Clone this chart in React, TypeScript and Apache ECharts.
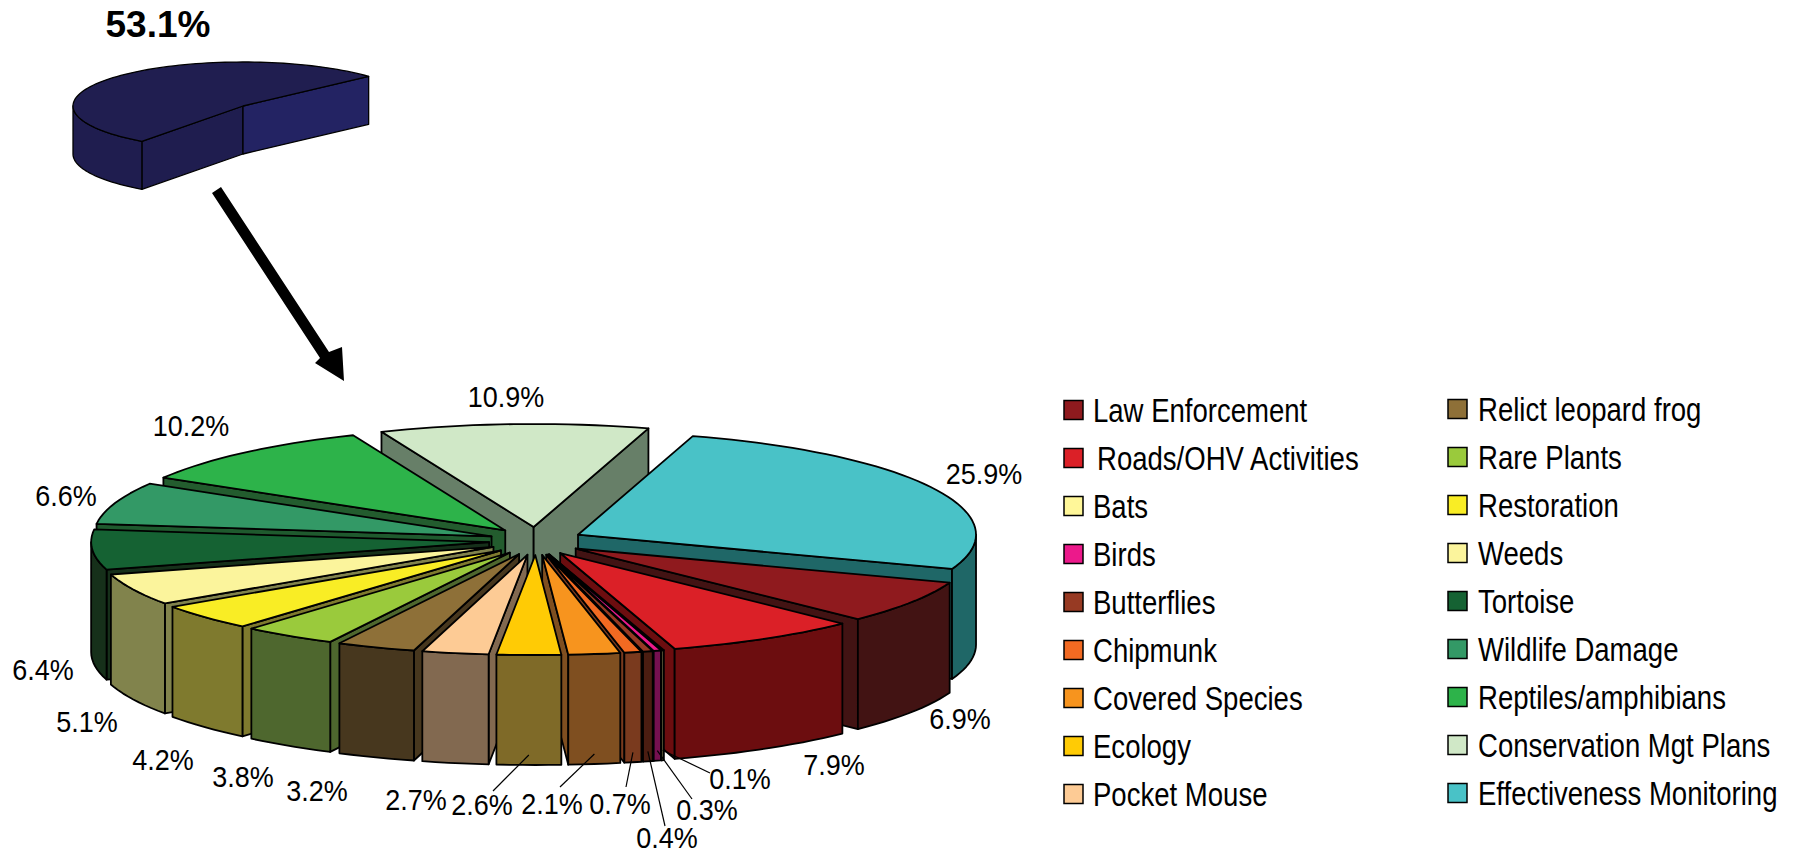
import React, { useEffect, useRef } from "react";
import * as echarts from "echarts";

const categories = [
  "Law Enforcement", "Roads/OHV Activities", "Bats", "Birds", "Butterflies", "Chipmunk",
  "Covered Species", "Ecology", "Pocket Mouse", "Relict leopard frog", "Rare Plants", "Restoration",
  "Weeds", "Tortoise", "Wildlife Damage", "Reptiles/amphibians", "Conservation Mgt Plans", "Effectiveness Monitoring",
];
const percentages = [6.9, 7.9, 0.1, 0.3, 0.4, 0.7, 2.1, 2.6, 2.7, 3.2, 3.8, 4.2, 5.1, 6.4, 6.6, 10.2, 10.9, 25.9];
const topColors = [
  "#8F1A1E", "#DB2027", "#FFF799", "#EC198B", "#973A23", "#F26A22", "#F7941E", "#FFCB05", "#FDCB95",
  "#8E7038", "#9ACA3C", "#F9ED25", "#FBF49C", "#156233", "#339966", "#2DB34A", "#D0E8C7", "#49C2C7",
];
const sideColors = [
  "#421313", "#6C0D0F", "#7F7A4C", "#761050", "#4B1D11", "#7A3A1E", "#7F4F20", "#7F6A28", "#826950",
  "#47371E", "#4E672E", "#7F7A2E", "#81834C", "#16301A", "#1F5A2E", "#235C2E", "#677F68", "#1F6767",
];
const overviewValue = 53.1;

// label centres and optional leader-line ends, page pixels, parallel to categories
const labelCentres = [
  [960, 718], [834, 764], [740, 778], [707, 809], [667, 837], [620, 803], [552, 803], [482, 804], [416, 799],
  [317, 790], [243, 776], [163, 759], [87, 721], [43, 669], [66, 495], [191, 425], [506, 396], [984, 473],
];
const leaderEnds: Record<number, number[]> = {
  2: [710, 773], 3: [692, 799], 4: [665, 826], 5: [626, 787], 6: [560, 787], 7: [493, 791],
};

const PIE = { cx: 536, cy: 541, ex: 47, ey: 14, rx: 398, ryF: 100, ryB: 103, depth: 110, start: 20 };
const NAVY = { ax: 243, ay: 106, rx: 170, ry: 44, depth: 48, start: 126.5 };
const rad = (d: number) => (d * Math.PI) / 180;
const FONT = '"Liberation Sans", Arial, sans-serif';

type Geo = { ax: number; ay: number; rx: number; ryF: number; ryB: number; depth: number };
const rim = (g: Geo, deg: number, dz = 0) => {
  const c = Math.cos(rad(deg));
  const s = Math.sin(rad(deg));
  return [g.ax + c * g.rx, g.ay + s * (s > 0 ? g.ryF : g.ryB) + dz];
};
const arcPts = (g: Geo, a: number, b: number, dz = 0) => {
  const n = Math.max(2, Math.ceil((b - a) / 2));
  const out: number[][] = [];
  for (let i = 0; i <= n; i++) out.push(rim(g, a + ((b - a) * i) / n, dz));
  return out;
};

function sliceShapes(g: Geo, a: number, b: number, top: string, wallA: string, wallB: string, wallO: string, lw: number) {
  const poly = (points: number[][], fill: string) => ({
    type: "polygon",
    silent: true,
    shape: { points },
    style: { fill, stroke: "#000", lineWidth: lw, lineJoin: "round" },
  });
  const kids: any[] = [];
  const apex = [g.ax, g.ay];
  const low = (p: number[]) => [p[0], p[1] + g.depth];
  if (-Math.cos(rad(a)) > 0) {
    const p = rim(g, a);
    kids.push(poly([apex, p, low(p), low(apex)], wallA));
  }
  if (Math.cos(rad(b)) > 0) {
    const p = rim(g, b);
    kids.push(poly([apex, p, low(p), low(apex)], wallB));
  }
  for (const [s, e] of [[0, 180], [360, 540]]) {
    const from = Math.max(a, s);
    const to = Math.min(b, e);
    if (to > from) kids.push(poly([...arcPts(g, from, to), ...arcPts(g, from, to, g.depth).reverse()], wallO));
  }
  kids.push(poly([apex, ...arcPts(g, a, b)], top));
  return kids;
}

// cumulative start percentage of every slice
const starts: number[] = [];
percentages.reduce((acc, v, i) => {
  starts[i] = acc;
  return acc + v;
}, 0);
const midDeg = (i: number) => PIE.start + 3.6 * (starts[i] + percentages[i] / 2);
const geoOf = (i: number): Geo => {
  const m = rad(midDeg(i));
  return {
    ax: PIE.cx + PIE.ex * Math.cos(m),
    ay: PIE.cy + PIE.ey * Math.sin(m),
    rx: PIE.rx, ryF: PIE.ryF, ryB: PIE.ryB, depth: PIE.depth,
  };
};
// painter's order: back slices first
const paintOrder = percentages.map((_, i) => i).sort((p, q) => Math.sin(rad(midDeg(p))) - Math.sin(rad(midDeg(q))));

const legendRows = 9;

export default function App() {
  const ref = useRef<HTMLDivElement>(null);
  useEffect(() => {
    document.body.style.margin = "0";
    const chart = echarts.init(ref.current!, undefined, { renderer: "svg" });

    const legendEls: any[] = [];
    categories.forEach((name, i) => {
      const col = i < legendRows ? 0 : 1;
      const row = i % legendRows;
      const sx = col === 0 ? 1064 : 1448;
      const tx = (col === 0 ? 1093 : 1478) + (i === 1 ? 4 : 0);
      const cy = (col === 0 ? 410 : 409) + row * 48;
      legendEls.push({
        type: "rect",
        silent: true,
        shape: { x: sx, y: cy - 9.5, width: 19, height: 19 },
        style: { fill: topColors[i], stroke: "#000", lineWidth: 1.5 },
      });
      legendEls.push({
        type: "text",
        silent: true,
        x: tx,
        y: cy,
        scaleX: 0.835,
        style: { text: name, fill: "#000", font: `33px ${FONT}`, textAlign: "left", textVerticalAlign: "middle" },
      });
    });

    chart.setOption({
      animation: false,
      backgroundColor: "#fff",
      graphic: [
        {
          type: "group",
          silent: true,
          z: 20,
          children: [
            {
              type: "polygon",
              shape: {
                points: [
                  [212, 193], [221, 187], [329, 352], [342, 347], [344, 381], [315, 363], [320, 358],
                ],
              },
              style: { fill: "#000" },
            },
            {
              type: "text",
              x: 158,
              y: 24,
              style: { text: "53.1%", fill: "#000", font: `bold 37px ${FONT}`, textAlign: "center", textVerticalAlign: "middle" },
            },
            ...legendEls,
          ],
        },
      ],
      series: [
        {
          type: "custom",
          coordinateSystem: "none",
          silent: true,
          z: 2,
          data: [[overviewValue]],
          renderItem: (_: any, api: any) => {
            const a = NAVY.start;
            const b = a + 3.6 * api.value(0);
            const g: Geo = { ax: NAVY.ax, ay: NAVY.ay, rx: NAVY.rx, ryF: NAVY.ry, ryB: NAVY.ry, depth: NAVY.depth };
            return { type: "group", children: sliceShapes(g, a, b, "#201E50", "#1F1D4F", "#232363", "#1F1D4F", 1.3) };
          },
        },
        {
          type: "custom",
          coordinateSystem: "none",
          silent: true,
          z: 3,
          data: paintOrder.map((i) => [percentages[i], starts[i], i]),
          renderItem: (_: any, api: any) => {
            const v = api.value(0);
            const st = api.value(1);
            const i = api.value(2);
            const a = PIE.start + 3.6 * st;
            const b = a + 3.6 * v;
            const side = sideColors[i];
            return { type: "group", children: sliceShapes(geoOf(i), a, b, topColors[i], side, side, side, 1.8) };
          },
        },
        {
          type: "custom",
          coordinateSystem: "none",
          silent: true,
          z: 5,
          data: percentages.map((v, i) => [v, i]),
          renderItem: (_: any, api: any) => {
            const v = api.value(0);
            const i = api.value(1);
            const [x, y] = labelCentres[i];
            const kids: any[] = [];
            const end = leaderEnds[i];
            if (end) {
              const from = rim(geoOf(i), midDeg(i), PIE.depth - 10);
              kids.push({
                type: "line",
                shape: { x1: from[0], y1: from[1], x2: end[0], y2: end[1] },
                style: { stroke: "#000", lineWidth: 1.2 },
              });
            }
            kids.push({
              type: "text",
              x,
              y,
              scaleX: 0.9,
              style: {
                text: `${v.toFixed(1)}%`,
                fill: "#000",
                font: `30px ${FONT}`,
                textAlign: "center",
                textVerticalAlign: "middle",
              },
            });
            return { type: "group", children: kids };
          },
        },
      ],
    });
    return () => chart.dispose();
  }, []);
  return <div ref={ref} style={{ position: "absolute", left: 0, top: 0, width: 1797, height: 853, overflow: "hidden" }} />;
}
